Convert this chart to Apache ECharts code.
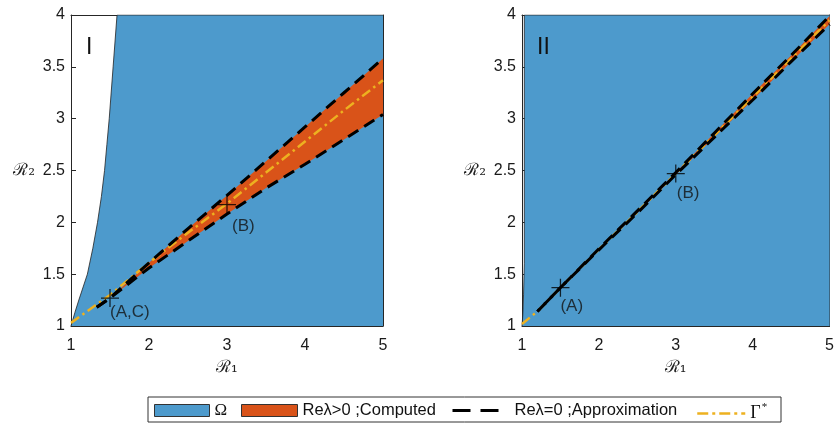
<!DOCTYPE html>
<html>
<head>
<meta charset="utf-8">
<script src="https://cdn.jsdelivr.net/npm/echarts@6/dist/echarts.min.js"></script>
<style>
  html, body { margin: 0; padding: 0; background: #fff; }
  #chart { width: 837px; height: 423px; }
</style>
</head>
<body>
<div id="chart"></div>
<script>
// ── Panel I data ──────────────────────────────────────────────────────────
// boundary of the white (excluded) region
const edgeX_I = [1, 1.05, 1.1, 1.21, 1.28, 1.34, 1.39, 1.43, 1.46, 1.49, 1.54, 1.59, 5]
const edgeY_I = [1, 1.13, 1.25, 1.5, 1.75, 2, 2.25, 2.5, 2.75, 3, 3.5, 4, 4]
// Re λ > 0 wedge and its approximate borders
const wedgeX_I = [1.33, 1.5, 2, 2.5, 3, 3.5, 4, 4.5, 5]
const wedgeLo_I = [1.18, 1.27, 1.56, 1.82, 2.08, 2.33, 2.56, 2.8, 3.04]
const wedgeHi_I = [1.18, 1.27, 1.61, 1.94, 2.26, 2.59, 2.92, 3.25, 3.58]
// Γ* curve
const gammaX_I = [1, 1.5, 2, 2.5, 3, 3.5, 4, 4.5, 5]
const gammaY_I = [1.03, 1.3, 1.61, 1.9, 2.18, 2.48, 2.78, 3.08, 3.37]
// marked points
const ptsX_I = [1.5, 3]
const ptsY_I = [1.27, 2.17]
const ptsName_I = ['(A,C)', '(B)']

// ── Panel II data ─────────────────────────────────────────────────────────
const edgeX_II = [1, 1.01, 1.02, 1.03, 1.03, 5]
const edgeY_II = [1, 1.1, 1.3, 1.6, 4, 4]
const wedgeX_II = [1.2, 1.5, 2, 2.5, 3, 3.5, 4, 4.5, 5]
const wedgeLo_II = [1.14, 1.37, 1.735, 2.09, 2.46, 2.82, 3.18, 3.55, 3.91]
const wedgeHi_II = [1.14, 1.37, 1.745, 2.11, 2.48, 2.86, 3.24, 3.61, 3.99]
const gammaX_II = [1, 1.2, 1.5, 2, 2.5, 3, 3.5, 4, 4.5, 5]
const gammaY_II = [1.02, 1.14, 1.37, 1.74, 2.1, 2.47, 2.84, 3.21, 3.58, 3.95]
const ptsX_II = [1.5, 3]
const ptsY_II = [1.37, 2.47]
const ptsName_II = ['(A)', '(B)']

// ── Axes ──────────────────────────────────────────────────────────────────
const xTicks = { min: 1, max: 5, interval: 1 }
const yTicks = { min: 1, max: 4, interval: 0.5 }

// ── Styles ────────────────────────────────────────────────────────────────
const BLUE = '#4D9ACC'
const RED = '#D95319'
const YELLOW = '#EDB120'
const AXIS = '#262626'
const SANS = 'Liberation Sans'
const CROSS = 'path://M-10,-0.7H10V0.7H-10Z M-0.7,-10H0.7V10H-0.7Z'

const zip = (xs, ys) => xs.map((x, i) => [x, ys[i]])

function xAxisDef(gridIndex, position, withLabel) {
  return {
    type: 'value', gridIndex, position, ...xTicks,
    name: withLabel ? 'ℛ₁' : '',
    nameLocation: 'middle', nameGap: 31,
    nameTextStyle: { fontFamily: 'DejaVu Serif', fontSize: 17, color: '#222' },
    axisLine: { show: true, onZero: false, lineStyle: { color: AXIS, width: 1 } },
    axisTick: { show: true, inside: true, length: 5, lineStyle: { color: AXIS } },
    axisLabel: { show: withLabel, margin: 12, color: '#1a1a1a', fontSize: 16, fontFamily: SANS },
    splitLine: { show: false }
  }
}

function yAxisDef(gridIndex, position, withLabel) {
  return {
    type: 'value', gridIndex, position, ...yTicks,
    name: withLabel ? 'ℛ₂' : '',
    nameLocation: 'middle', nameRotate: 0, nameGap: 36,
    nameTextStyle: { fontFamily: 'DejaVu Serif', fontSize: 17, color: '#222', align: 'right' },
    axisLine: { show: true, onZero: false, lineStyle: { color: AXIS, width: 1 } },
    axisTick: { show: true, inside: true, length: 5, lineStyle: { color: AXIS } },
    axisLabel: { show: withLabel, margin: 6, color: '#1a1a1a', fontSize: 16, fontFamily: SANS },
    splitLine: { show: false }
  }
}

function panelSeries(ax, d, labelOffsets, dashOffset) {
  const base = { xAxisIndex: ax, yAxisIndex: ax, symbol: 'none', silent: true }
  return [
    { ...base, type: 'line', name: 'Ω', data: zip(d.edgeX, d.edgeY),
      lineStyle: { color: '#222', width: 0.8 }, itemStyle: { color: BLUE },
      areaStyle: { color: BLUE, opacity: 1 }, z: 1 },
    // band between the lower and upper borders, mapped through the axes
    { ...base, type: 'custom', name: 'Reλ>0 ;Computed', itemStyle: { color: RED }, z: 2,
      data: [[d.wedgeX[0], d.wedgeLo[0]]],
      renderItem: (params, api) => {
        const top = d.wedgeX.map((x, i) => api.coord([x, d.wedgeHi[i]]))
        const bottom = d.wedgeX.map((x, i) => api.coord([x, d.wedgeLo[i]])).reverse()
        return { type: 'polygon', shape: { points: top.concat(bottom) }, style: { fill: RED } }
      } },
    { ...base, type: 'line', name: 'Γ*', data: zip(d.gammaX, d.gammaY),
      lineStyle: { color: YELLOW, width: 2.5, type: [10, 4, 2.5, 4] }, itemStyle: { color: YELLOW }, z: 3 },
    { ...base, type: 'line', name: 'Reλ=0 ;Approximation', data: zip(d.wedgeX, d.wedgeHi),
      lineStyle: { color: '#000', width: 3, type: [12, 7] }, itemStyle: { color: '#000' }, z: 4 },
    { ...base, type: 'line', name: 'Reλ=0 ;Approximation', data: zip(d.wedgeX, d.wedgeLo),
      lineStyle: { color: '#000', width: 3, type: [12, 7], dashOffset }, itemStyle: { color: '#000' }, z: 4 },
    { ...base, type: 'scatter', name: 'pts' + ax, symbol: CROSS, symbolSize: 18,
      itemStyle: { color: '#000' }, z: 5,
      data: d.ptsX.map((x, i) => ({
        value: [x, d.ptsY[i]], name: d.ptsName[i],
        label: { show: true, position: 'inside', align: 'left', verticalAlign: 'middle',
                 offset: labelOffsets[i], formatter: '{b}',
                 color: '#111', fontSize: 17, fontFamily: SANS }
      })) }
  ]
}

const panelI = { edgeX: edgeX_I, edgeY: edgeY_I, wedgeX: wedgeX_I, wedgeLo: wedgeLo_I, wedgeHi: wedgeHi_I,
  gammaX: gammaX_I, gammaY: gammaY_I, ptsX: ptsX_I, ptsY: ptsY_I, ptsName: ptsName_I }
const panelII = { edgeX: edgeX_II, edgeY: edgeY_II, wedgeX: wedgeX_II, wedgeLo: wedgeLo_II, wedgeHi: wedgeHi_II,
  gammaX: gammaX_II, gammaY: gammaY_II, ptsX: ptsX_II, ptsY: ptsY_II, ptsName: ptsName_II }

// ── Legend (one component per entry so spacing matches) ───────────────────
const legendCommon = {
  orient: 'horizontal', padding: 0, selectedMode: false, itemGap: 0, top: 402,
  textStyle: { fontFamily: SANS, fontSize: 16.5, color: '#111' }
}
const hiddenSymbol = { color: 'rgba(0,0,0,0)', borderWidth: 0 }
const legends = [
  { ...legendCommon, left: 154, data: ['Ω'], icon: 'rect', itemWidth: 55, itemHeight: 12,
    itemStyle: { color: BLUE, borderColor: '#333', borderWidth: 1 },
    textStyle: { ...legendCommon.textStyle, fontFamily: 'Liberation Serif', fontSize: 17 } },
  { ...legendCommon, left: 241, data: ['Reλ>0 ;Computed'], icon: 'rect', itemWidth: 56, itemHeight: 12,
    itemStyle: { color: RED, borderColor: '#333', borderWidth: 1 } },
  { ...legendCommon, left: 451, data: ['Reλ=0 ;Approximation'], itemWidth: 57, itemHeight: 12,
    itemStyle: hiddenSymbol,
    lineStyle: { color: '#000', width: 3, type: [18, 10, 18, 40] } },
  { ...legendCommon, left: 696, data: ['Γ*'], itemWidth: 48, itemHeight: 12,
    itemStyle: hiddenSymbol,
    lineStyle: { color: YELLOW, width: 2.5, type: [11, 4, 3, 4, 11, 4, 3, 4, 8, 40] },
    formatter: () => '{g|Γ}{s|*}',
    textStyle: { ...legendCommon.textStyle,
      rich: { g: { fontFamily: 'Liberation Serif', fontSize: 18, color: '#111' },
              s: { fontFamily: 'Liberation Serif', fontSize: 11, color: '#111', padding: [0, 0, 12, 1] } } } }
]

const chart = echarts.init(document.getElementById('chart'), null, { renderer: 'canvas' })
chart.setOption({
  animation: false,
  backgroundColor: '#fff',
  grid: [
    { left: 71, top: 15, width: 312, height: 311 },
    { left: 522, top: 15, width: 312, height: 311 }
  ],
  xAxis: [xAxisDef(0, 'bottom', true), xAxisDef(0, 'top', false), xAxisDef(1, 'bottom', true), xAxisDef(1, 'top', false)],
  yAxis: [yAxisDef(0, 'left', true), yAxisDef(0, 'right', false), yAxisDef(1, 'left', true), yAxisDef(1, 'right', false)],
  legend: legends,
  graphic: [
    { type: 'rect', z: -10, shape: { x: 148, y: 397, width: 633, height: 25 },
      style: { fill: '#fff', stroke: '#333', lineWidth: 1 } },
    { type: 'text', left: 86, top: 36, z: 20,
      style: { text: 'I', fontFamily: SANS, fontSize: 23, fill: '#111' } },
    { type: 'text', left: 537, top: 36, z: 20,
      style: { text: 'II', fontFamily: SANS, fontSize: 23, fill: '#111' } }
  ],
  series: [
    ...panelSeries(0, panelI, [[0, 14], [5, 22]], 0),
    ...panelSeries(2, panelII, [[0, 19], [1, 20]], 9)
  ]
})
</script>
</body>
</html>
